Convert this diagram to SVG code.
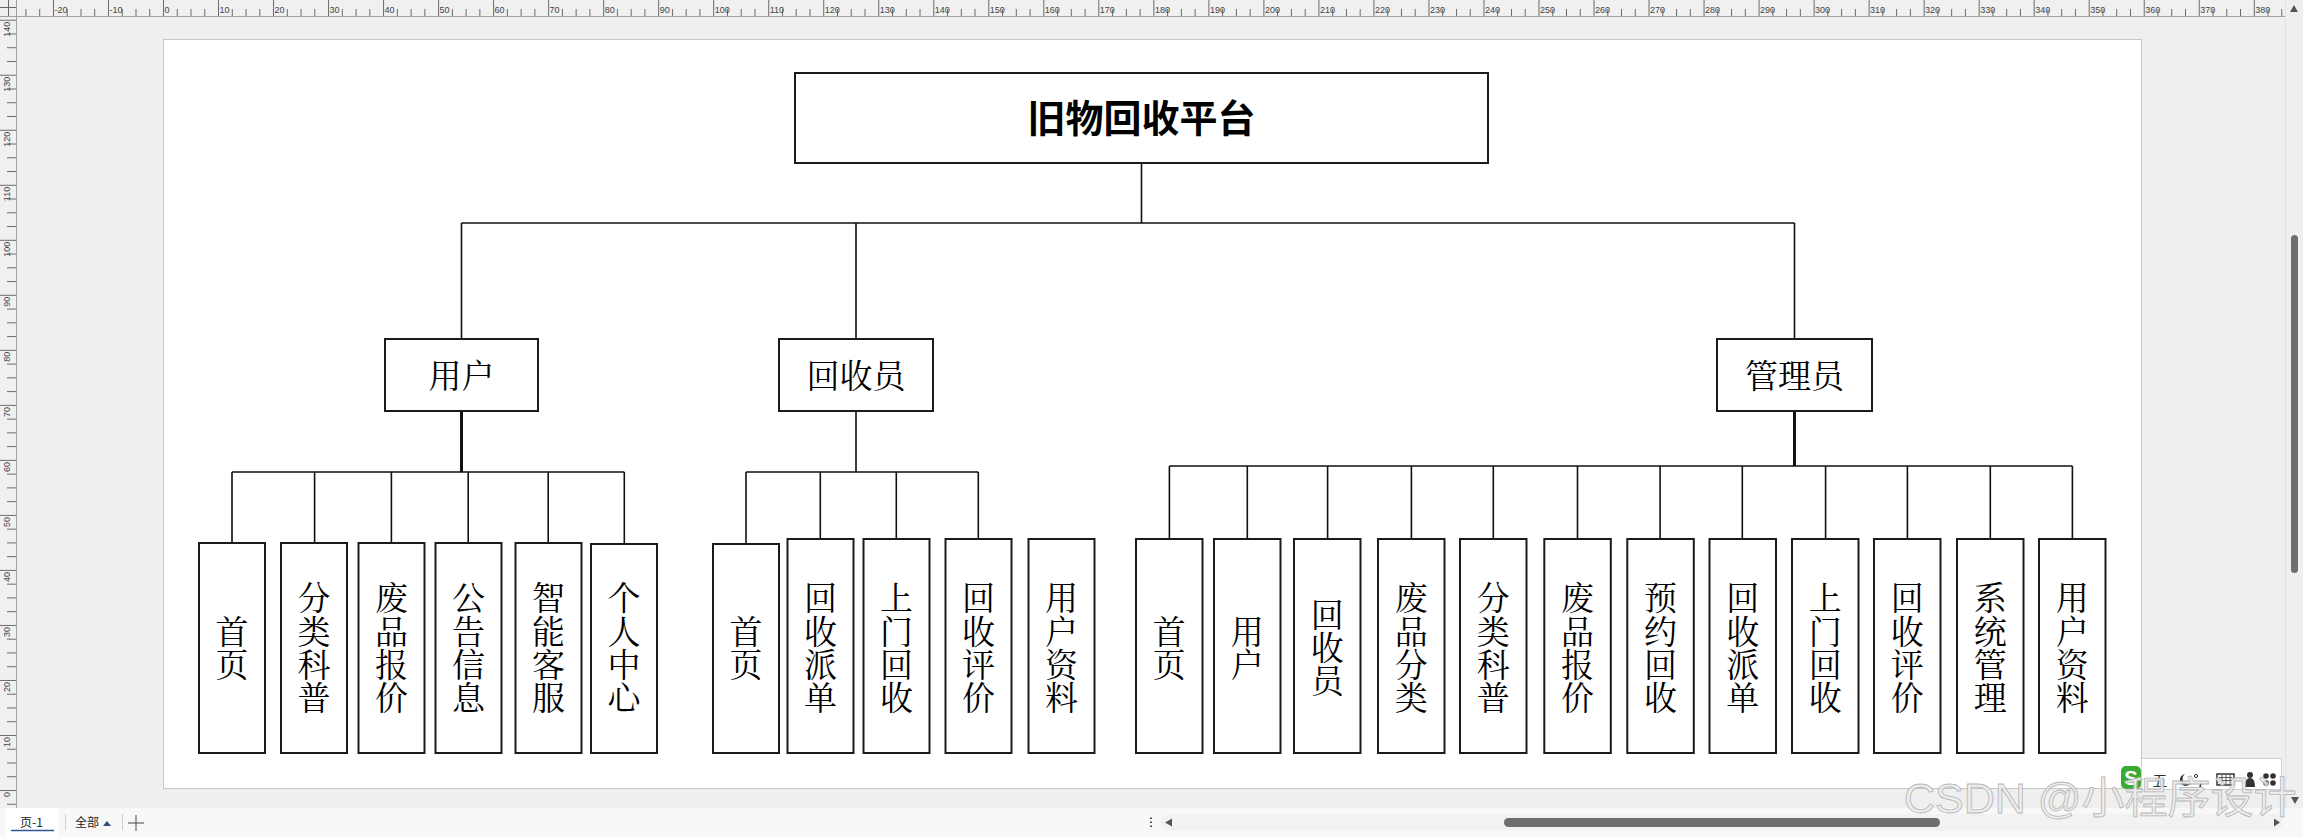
<svg xmlns="http://www.w3.org/2000/svg" width="2303" height="837" viewBox="0 0 2303 837">
<style>
.box{fill:#fff;stroke:#1a1a1a;stroke-width:2}
.conn{stroke:#111;stroke-width:1.6;fill:none}
.thick{stroke:#111;stroke-width:3;fill:none}
.t{font-family:"Noto Serif CJK SC","Noto Sans CJK SC","Noto Sans",sans-serif;font-size:33px;fill:#000;text-anchor:middle}
.title{font-family:"Noto Sans CJK SC","Noto Sans",sans-serif;font-size:38px;font-weight:700;fill:#000;text-anchor:middle}
.rl{font-family:"Liberation Sans",Arial,sans-serif;font-size:9px;fill:#444}
.ui{font-family:"Noto Sans CJK SC","Liberation Sans",sans-serif;font-size:12px;fill:#222}
</style>
<defs>
<pattern id="hr" x="52.96" y="0" width="55.02" height="16" patternUnits="userSpaceOnUse">
<path d="M0.5 0V16M14.26 9V16M28.01 9V16M41.77 9V16" stroke="#6a6a6a" stroke-width="1"/>
</pattern>
<pattern id="vr" x="0" y="19.72" width="16" height="55.02" patternUnits="userSpaceOnUse">
<path d="M0 0.5H16M7 14.26H16M7 28.01H16M7 41.77H16" stroke="#6a6a6a" stroke-width="1"/>
</pattern>
</defs>

<!-- background / chrome -->
<g id="chrome">
<rect x="0" y="0" width="2303" height="837" fill="#efefef"/>
<rect x="163.5" y="39.5" width="1978" height="749" fill="#fff" stroke="#c6c6c6" stroke-width="1"/>
<rect x="16" y="0" width="2269" height="16" fill="#f0f0f0"/>
<rect x="16" y="0" width="2269" height="16" fill="url(#hr)"/>
<rect x="0" y="16" width="16" height="792" fill="#f0f0f0"/>
<rect x="0" y="16" width="16" height="792" fill="url(#vr)"/>
<path d="M0 16.5H2285M16.5 0V808" stroke="#a0a0a0" stroke-width="1"/>
<path d="M0 7.5H16M8.5 0V16" stroke="#666" stroke-width="1"/>
<g class="rl">
<text x="54.5" y="13">-20</text><text x="109.5" y="13">-10</text><text x="164.5" y="13">0</text>
<text x="219.5" y="13">10</text><text x="274.5" y="13">20</text><text x="329.6" y="13">30</text>
<text x="384.6" y="13">40</text><text x="439.6" y="13">50</text><text x="494.6" y="13">60</text>
<text x="549.6" y="13">70</text><text x="604.7" y="13">80</text><text x="659.7" y="13">90</text>
<text x="714.7" y="13">100</text><text x="769.7" y="13">110</text><text x="824.7" y="13">120</text>
<text x="879.8" y="13">130</text><text x="934.8" y="13">140</text><text x="989.8" y="13">150</text>
<text x="1044.8" y="13">160</text><text x="1099.8" y="13">170</text><text x="1154.9" y="13">180</text>
<text x="1209.9" y="13">190</text><text x="1264.9" y="13">200</text><text x="1319.9" y="13">210</text>
<text x="1374.9" y="13">220</text><text x="1430" y="13">230</text><text x="1485" y="13">240</text>
<text x="1540" y="13">250</text><text x="1595" y="13">260</text><text x="1650" y="13">270</text>
<text x="1705.1" y="13">280</text><text x="1760.1" y="13">290</text><text x="1815.1" y="13">300</text>
<text x="1870.1" y="13">310</text><text x="1925.1" y="13">320</text><text x="1980.2" y="13">330</text>
<text x="2035.2" y="13">340</text><text x="2090.2" y="13">350</text><text x="2145.2" y="13">360</text>
<text x="2200.2" y="13">370</text><text x="2255.3" y="13">380</text>
</g>
<g class="rl" text-anchor="end">
<text transform="translate(10,21.7) rotate(-90)">140</text>
<text transform="translate(10,76.7) rotate(-90)">130</text>
<text transform="translate(10,131.8) rotate(-90)">120</text>
<text transform="translate(10,186.8) rotate(-90)">110</text>
<text transform="translate(10,241.8) rotate(-90)">100</text>
<text transform="translate(10,296.8) rotate(-90)">90</text>
<text transform="translate(10,351.8) rotate(-90)">80</text>
<text transform="translate(10,406.9) rotate(-90)">70</text>
<text transform="translate(10,461.9) rotate(-90)">60</text>
<text transform="translate(10,516.9) rotate(-90)">50</text>
<text transform="translate(10,571.9) rotate(-90)">40</text>
<text transform="translate(10,626.9) rotate(-90)">30</text>
<text transform="translate(10,682) rotate(-90)">20</text>
<text transform="translate(10,737) rotate(-90)">10</text>
<text transform="translate(10,792) rotate(-90)">0</text>
</g>
<!-- right scrollbar -->
<path d="M2285.5 0V808" stroke="#e2e2e2" stroke-width="1"/>
<polygon points="2290,12 2298,12 2294,5" fill="#555"/>
<rect x="2291" y="235" width="7" height="338" rx="3.5" fill="#6e6e6e"/>
<polygon points="2291,797 2299,797 2295,804" fill="#555"/>
<!-- bottom bar -->
<rect x="0" y="808" width="2303" height="29" fill="#f8f8f8"/>
<rect x="6" y="808" width="52" height="29" fill="#fff"/>
<text class="ui" x="20" y="827">页-1</text>
<path d="M11 830.5H54" stroke="#2f5597" stroke-width="1.5"/>
<path d="M65.5 814V830M122.5 814V830" stroke="#cfcfcf" stroke-width="1"/>
<text class="ui" x="75" y="827" font-size="11">全部</text>
<polygon points="103,826 111,826 107,821" fill="#2f4f7f"/>
<path d="M136 815V831M128 823H144" stroke="#444" stroke-width="1"/>
<path d="M1151 817.5V819M1151 821.5V823M1151 825.5V827" stroke="#222" stroke-width="1.6"/>
<rect x="1160" y="814" width="1123" height="17" rx="8.5" fill="#f2f2f2"/>
<polygon points="1165,822.5 1172,818.5 1172,826.5" fill="#555"/>
<rect x="1504" y="818" width="436" height="9" rx="4.5" fill="#6e6e6e"/>
<polygon points="2280,822.5 2274,818.5 2274,826.5" fill="#555"/>
<!-- IME toolbar -->
<rect x="2141.5" y="758.5" width="140" height="31" fill="#fff" stroke="#cfcfcf" stroke-width="1"/>
<rect x="2121" y="766" width="20" height="23" rx="5" fill="#3aaa35"/>
<text x="2131" y="785" font-family="Liberation Sans,Arial,sans-serif" font-size="20" font-weight="700" fill="#fff" text-anchor="middle">S</text>
<text x="2160" y="786" font-family="Noto Sans CJK SC,sans-serif" font-size="15" fill="#333" text-anchor="middle">五</text>
<path d="M2185 774a6 6 0 1 0 6 9a5 5 0 1 1 -6 -9z" fill="#333"/>
<circle cx="2196" cy="776" r="1.6" fill="none" stroke="#333" stroke-width="1"/>
<path d="M2201 783l-1 4" stroke="#333" stroke-width="1.5"/>
<rect x="2217" y="774" width="17" height="11" fill="none" stroke="#333" stroke-width="1.5"/>
<path d="M2219 777.5H2232M2219 780.5H2232M2222 775V784M2226 775V784M2230 775V784" stroke="#333" stroke-width="0.8"/>
<circle cx="2250" cy="775" r="3" fill="#333"/>
<path d="M2245 787q0-9 5-9q5 0 5 9z" fill="#333"/>
<circle cx="2266" cy="776" r="2.8" fill="#333"/><circle cx="2273" cy="776" r="2.8" fill="#333"/>
<circle cx="2266" cy="783" r="2.8" fill="#333"/><circle cx="2273" cy="783" r="2.8" fill="#333"/>
<!-- watermark -->
<text x="1904" y="813" font-family="Liberation Sans,'Noto Sans CJK SC',sans-serif" font-size="43" fill="#ececec" stroke="#b0b0b0" stroke-width="0.8" opacity="0.9">CSDN @小程序设计</text>
</g>

<!-- connectors -->
<g id="connectors">
<path class="conn" d="M1141.5 163V223M461.5 223H1794.5M461.5 223V339M856 223V339M1794.5 223V339"/>
<path class="thick" d="M461.5 411V472"/>
<path class="conn" d="M232 472H624.3M232 472V543M314.6 472V543M391.4 472V543M468.2 472V543M548.2 472V543M624.3 472V544"/>
<path class="conn" d="M856 411V472M746 472H978.3M746 472V544M820.3 472V539M896.3 472V539M978.3 472V539"/>
<path class="thick" d="M1794.5 411V466"/>
<path class="conn" d="M1169.4 466H2072.4M1169.4 466V539M1247.3 466V539M1327.6 466V539M1411.4 466V539M1493.3 466V539M1577.5 466V539M1660.1 466V539M1742.3 466V539M1825.6 466V539M1907.4 466V539M1990.3 466V539M2072.4 466V539"/>
</g>

<g id="root"><rect class="box" x="795" y="73" width="693" height="90"/><text class="title" x="1141.5" y="132">旧物回收平台</text></g>

<g id="user"><rect class="box" x="385" y="339" width="153" height="72"/><text class="t" x="461.5" y="387.5">用户</text></g>
<g id="recycler"><rect class="box" x="779" y="339" width="154" height="72"/><text class="t" x="856" y="387.5">回收员</text></g>
<g id="admin"><rect class="box" x="1717" y="339" width="155" height="72"/><text class="t" x="1794.5" y="387.5">管理员</text></g>

<!-- user children -->
<g id="u1"><rect class="box" x="199" y="543" width="66" height="210"/><text class="t"><tspan x="232" y="643.5">首</tspan><tspan x="232" y="676.5">页</tspan></text></g>
<g id="u2"><rect class="box" x="281" y="543" width="66" height="210"/><text class="t"><tspan x="314" y="610">分</tspan><tspan x="314" y="643.5">类</tspan><tspan x="314" y="676.5">科</tspan><tspan x="314" y="710">普</tspan></text></g>
<g id="u3"><rect class="box" x="358.5" y="543" width="66" height="210"/><text class="t"><tspan x="391.5" y="610">废</tspan><tspan x="391.5" y="643.5">品</tspan><tspan x="391.5" y="676.5">报</tspan><tspan x="391.5" y="710">价</tspan></text></g>
<g id="u4"><rect class="box" x="435.5" y="543" width="66" height="210"/><text class="t"><tspan x="468.5" y="610">公</tspan><tspan x="468.5" y="643.5">告</tspan><tspan x="468.5" y="676.5">信</tspan><tspan x="468.5" y="710">息</tspan></text></g>
<g id="u5"><rect class="box" x="515.5" y="543" width="66" height="210"/><text class="t"><tspan x="548.5" y="610">智</tspan><tspan x="548.5" y="643.5">能</tspan><tspan x="548.5" y="676.5">客</tspan><tspan x="548.5" y="710">服</tspan></text></g>
<g id="u6"><rect class="box" x="591" y="544" width="66" height="209"/><text class="t"><tspan x="624" y="610">个</tspan><tspan x="624" y="643.5">人</tspan><tspan x="624" y="676.5">中</tspan><tspan x="624" y="710">心</tspan></text></g>

<!-- recycler children -->
<g id="r1"><rect class="box" x="713" y="544" width="66" height="209"/><text class="t"><tspan x="746" y="643.5">首</tspan><tspan x="746" y="676.5">页</tspan></text></g>
<g id="r2"><rect class="box" x="787.5" y="539" width="66" height="214"/><text class="t"><tspan x="820.5" y="610">回</tspan><tspan x="820.5" y="643.5">收</tspan><tspan x="820.5" y="676.5">派</tspan><tspan x="820.5" y="710">单</tspan></text></g>
<g id="r3"><rect class="box" x="863.5" y="539" width="66" height="214"/><text class="t"><tspan x="896.5" y="610">上</tspan><tspan x="896.5" y="643.5">门</tspan><tspan x="896.5" y="676.5">回</tspan><tspan x="896.5" y="710">收</tspan></text></g>
<g id="r4"><rect class="box" x="945.5" y="539" width="66" height="214"/><text class="t"><tspan x="978.5" y="610">回</tspan><tspan x="978.5" y="643.5">收</tspan><tspan x="978.5" y="676.5">评</tspan><tspan x="978.5" y="710">价</tspan></text></g>
<g id="r5"><rect class="box" x="1028.5" y="539" width="66" height="214"/><text class="t"><tspan x="1061.5" y="610">用</tspan><tspan x="1061.5" y="643.5">户</tspan><tspan x="1061.5" y="676.5">资</tspan><tspan x="1061.5" y="710">料</tspan></text></g>

<!-- admin children -->
<g id="a1"><rect class="box" x="1136" y="539" width="66.5" height="214"/><text class="t"><tspan x="1169.3" y="643.5">首</tspan><tspan x="1169.3" y="676.5">页</tspan></text></g>
<g id="a2"><rect class="box" x="1214" y="539" width="66.5" height="214"/><text class="t"><tspan x="1247.3" y="643.5">用</tspan><tspan x="1247.3" y="676.5">户</tspan></text></g>
<g id="a3"><rect class="box" x="1294" y="539" width="66.5" height="214"/><text class="t"><tspan x="1327.3" y="627">回</tspan><tspan x="1327.3" y="660">收</tspan><tspan x="1327.3" y="693">员</tspan></text></g>
<g id="a4"><rect class="box" x="1378" y="539" width="66.5" height="214"/><text class="t"><tspan x="1411.3" y="610">废</tspan><tspan x="1411.3" y="643.5">品</tspan><tspan x="1411.3" y="676.5">分</tspan><tspan x="1411.3" y="710">类</tspan></text></g>
<g id="a5"><rect class="box" x="1460" y="539" width="66.5" height="214"/><text class="t"><tspan x="1493.3" y="610">分</tspan><tspan x="1493.3" y="643.5">类</tspan><tspan x="1493.3" y="676.5">科</tspan><tspan x="1493.3" y="710">普</tspan></text></g>
<g id="a6"><rect class="box" x="1544.3" y="539" width="66.5" height="214"/><text class="t"><tspan x="1577.5" y="610">废</tspan><tspan x="1577.5" y="643.5">品</tspan><tspan x="1577.5" y="676.5">报</tspan><tspan x="1577.5" y="710">价</tspan></text></g>
<g id="a7"><rect class="box" x="1627.3" y="539" width="66.5" height="214"/><text class="t"><tspan x="1660.5" y="610">预</tspan><tspan x="1660.5" y="643.5">约</tspan><tspan x="1660.5" y="676.5">回</tspan><tspan x="1660.5" y="710">收</tspan></text></g>
<g id="a8"><rect class="box" x="1709.5" y="539" width="66.5" height="214"/><text class="t"><tspan x="1742.7" y="610">回</tspan><tspan x="1742.7" y="643.5">收</tspan><tspan x="1742.7" y="676.5">派</tspan><tspan x="1742.7" y="710">单</tspan></text></g>
<g id="a9"><rect class="box" x="1792" y="539" width="66.5" height="214"/><text class="t"><tspan x="1825.3" y="610">上</tspan><tspan x="1825.3" y="643.5">门</tspan><tspan x="1825.3" y="676.5">回</tspan><tspan x="1825.3" y="710">收</tspan></text></g>
<g id="a10"><rect class="box" x="1874" y="539" width="66.5" height="214"/><text class="t"><tspan x="1907.3" y="610">回</tspan><tspan x="1907.3" y="643.5">收</tspan><tspan x="1907.3" y="676.5">评</tspan><tspan x="1907.3" y="710">价</tspan></text></g>
<g id="a11"><rect class="box" x="1957" y="539" width="66.5" height="214"/><text class="t"><tspan x="1990.3" y="610">系</tspan><tspan x="1990.3" y="643.5">统</tspan><tspan x="1990.3" y="676.5">管</tspan><tspan x="1990.3" y="710">理</tspan></text></g>
<g id="a12"><rect class="box" x="2039" y="539" width="66.5" height="214"/><text class="t"><tspan x="2072.3" y="610">用</tspan><tspan x="2072.3" y="643.5">户</tspan><tspan x="2072.3" y="676.5">资</tspan><tspan x="2072.3" y="710">料</tspan></text></g>
</svg>
